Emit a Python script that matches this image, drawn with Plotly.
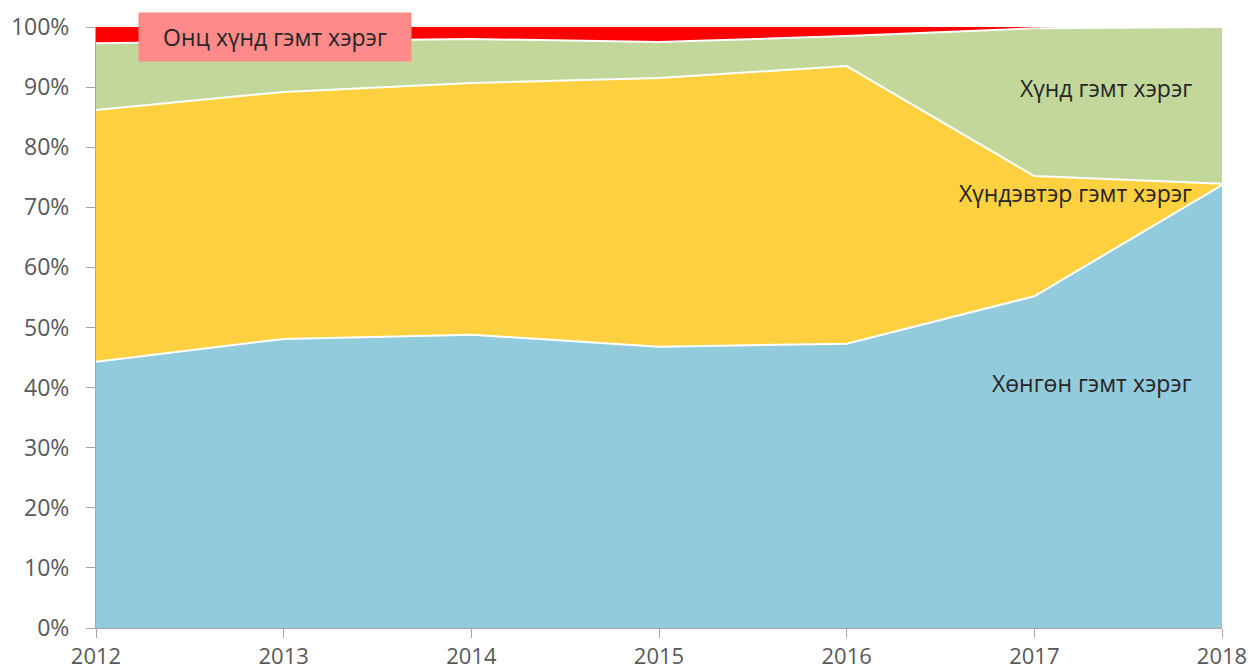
import plotly.graph_objects as go

years = [2012, 2013, 2014, 2015, 2016, 2017, 2018]
light = [44.3, 48.1, 48.8, 46.8, 47.3, 55.2, 73.7]      # Хөнгөн гэмт хэрэг
medium = [41.9, 41.1, 41.9, 44.7, 46.2, 20.0, 0.2]     # Хүндэвтэр гэмт хэрэг
heavy = [11.1, 8.5, 7.3, 6.0, 5.0, 24.6, 26.1]         # Хүнд гэмт хэрэг
very_heavy = [2.7, 2.3, 2.0, 2.5, 1.5, 0.2, 0.0]       # Онц хүнд гэмт хэрэг

names = ["Хөнгөн гэмт хэрэг", "Хүндэвтэр гэмт хэрэг", "Хүнд гэмт хэрэг", "Онц хүнд гэмт хэрэг"]
series = [light, medium, heavy, very_heavy]
colors = ["#92CBDC", "#FFD03F", "#C4D79B", "#FF0000"]
linew = [2, 2, 2, 0]

fig = go.Figure()
for n, s, c, w in zip(names, series, colors, linew):
    fig.add_trace(go.Scatter(
        x=years, y=s, name=n, mode="lines", stackgroup="one",
        fillcolor=c, line=dict(color="white" if w else c, width=w),
        hoverinfo="skip",
    ))

font_family = "Open Sans, Lato, sans-serif"
label_font = dict(family=font_family, size=23, color="#262626")

fig.add_annotation(x=2017.85, y=89.8, text=names[2], showarrow=False,
                   xanchor="right", yanchor="middle", font=label_font)
fig.add_annotation(x=2017.85, y=72.4, text=names[1], showarrow=False,
                   xanchor="right", yanchor="middle", font=label_font)
fig.add_annotation(x=2017.85, y=40.8, text=names[0], showarrow=False,
                   xanchor="right", yanchor="middle", font=label_font)
fig.add_annotation(x=2012.954, y=98.3, text=names[3], showarrow=False,
                   xanchor="center", yanchor="middle", font=label_font,
                   bgcolor="#FF8A8A", width=270, height=46)

fig.update_layout(
    width=1252, height=672,
    margin=dict(l=96, r=30, t=27, b=44, autoexpand=False),
    paper_bgcolor="white", plot_bgcolor="white",
    showlegend=False,
    font=dict(family=font_family, size=23, color="#595959"),
)
fig.update_xaxes(
    range=[2012, 2018], tickvals=years, ticktext=[str(y) for y in years],
    showgrid=False, zeroline=False, showline=True, linecolor="#A6A6A6", linewidth=1,
    ticks="outside", ticklen=9, tickcolor="#A6A6A6", automargin=False,
    tickfont=dict(family=font_family, size=22, color="#595959"),
)
fig.update_yaxes(
    range=[0, 100], tickvals=list(range(0, 101, 10)),
    ticktext=[f"{v}%" for v in range(0, 101, 10)],
    showgrid=False, zeroline=False, showline=True, linecolor="#A6A6A6", linewidth=1,
    ticks="outside", ticklen=9, tickcolor="#A6A6A6", automargin=False,
    ticklabelstandoff=12,
    tickfont=dict(family=font_family, size=23, color="#595959"),
)

fig.write_html(
    "out.html",
    config={"displayModeBar": False},
    post_script="document.body.style.margin='0';document.body.style.overflow='hidden';",
)
